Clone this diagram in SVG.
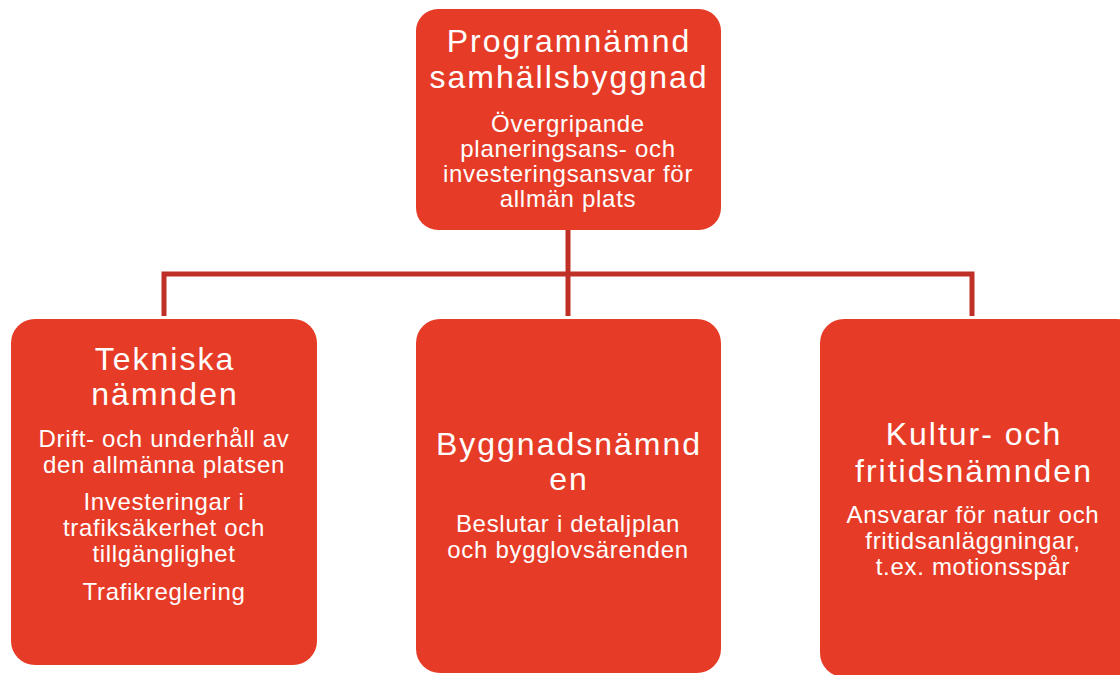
<svg xmlns="http://www.w3.org/2000/svg" width="1120" height="675" viewBox="0 0 1120 675">
<style>
.box{fill:#e63c27;}
.t{font-family:"Liberation Sans",Arial,sans-serif;fill:#ffffff;text-anchor:middle;}
.h{font-size:32px;letter-spacing:2px;}
.s{font-size:24px;letter-spacing:0.7px;}
.c{fill:none;stroke:#bf3026;stroke-width:5;}
</style>
<rect width="1120" height="675" fill="#ffffff"/>
<g id="connectors">
<path class="c" d="M568,230 V274 M164,316 V274 H972 V316 M568,274 V316"/>
</g>
<g id="top">
<rect class="box" x="416" y="9" width="305" height="221" rx="22"/>
<text class="t h" x="569" y="52">Programnämnd</text>
<text class="t h" x="569" y="88">samhällsbyggnad</text>
<text class="t s" x="568" y="132">Övergripande</text>
<text class="t s" x="568" y="157">planeringsans- och</text>
<text class="t s" x="568" y="182">investeringsansvar för</text>
<text class="t s" x="568" y="207">allmän plats</text>
</g>
<g id="tekniska">
<rect class="box" x="11" y="319" width="306" height="346" rx="24"/>
<text class="t h" x="165" y="370">Tekniska</text>
<text class="t h" x="165" y="405">nämnden</text>
<text class="t s" x="164" y="447">Drift- och underhåll av</text>
<text class="t s" x="164" y="473">den allmänna platsen</text>
<text class="t s" x="164" y="510">Investeringar i</text>
<text class="t s" x="164" y="536">trafiksäkerhet och</text>
<text class="t s" x="164" y="562">tillgänglighet</text>
<text class="t s" x="164" y="600">Trafikreglering</text>
</g>
<g id="bygg">
<rect class="box" x="416" y="319" width="305" height="354" rx="24"/>
<text class="t h" x="569" y="455">Byggnadsnämnd</text>
<text class="t h" x="569" y="490">en</text>
<text class="t s" x="568" y="532">Beslutar i detaljplan</text>
<text class="t s" x="568" y="558">och bygglovsärenden</text>
</g>
<g id="kultur">
<rect class="box" x="820" y="319" width="320" height="358" rx="24"/>
<text class="t h" x="974" y="445">Kultur- och</text>
<text class="t h" x="974" y="482">fritidsnämnden</text>
<text class="t s" x="973" y="523">Ansvarar för natur och</text>
<text class="t s" x="973" y="549">fritidsanläggningar,</text>
<text class="t s" x="973" y="575">t.ex. motionsspår</text>
</g>
</svg>
